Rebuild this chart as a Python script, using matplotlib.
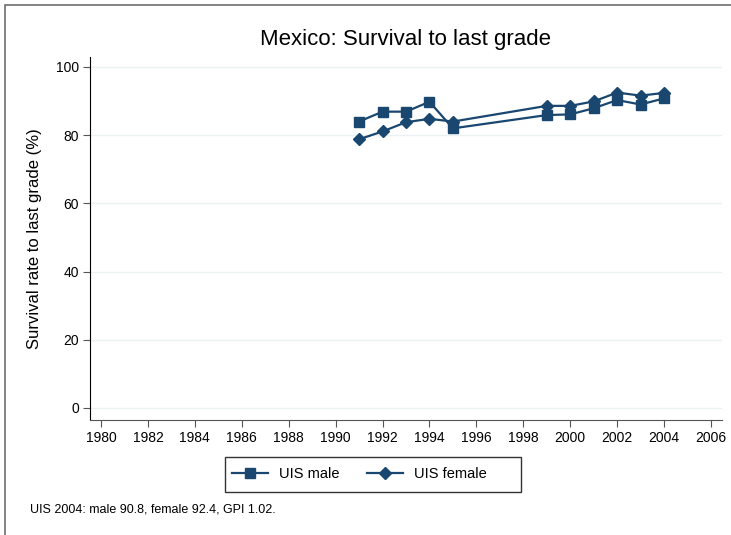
"""
Mexico: survival to last grade, UIS male vs female
"""

import matplotlib.pyplot as plt
from matplotlib.patches import Rectangle

plt.rcParams['font.family'] = ['Liberation Sans', 'DejaVu Sans']

# Data
years = [1991, 1992, 1993, 1994, 1995, 1999, 2000, 2001, 2002, 2003, 2004]
male = [84.0, 86.9, 86.9, 89.8, 82.0, 85.9, 86.1, 87.9, 90.3, 89.0, 90.8]
female = [78.8, 81.1, 83.8, 84.8, 84.0, 88.6, 88.6, 89.9, 92.5, 91.6, 92.4]
xticks = list(range(1980, 2007, 2))
yticks = [0, 20, 40, 60, 80, 100]

navy = '#1a476f'
W, H = 731, 535

fig = plt.figure(figsize=(W / 100, H / 100), dpi=100)
# outer frame (right and bottom edges fall outside the picture)
fig.patches.append(Rectangle((5 / W, -0.5), 2.0, 1.5 - 5 / H,
                             transform=fig.transFigure, fill=False,
                             edgecolor='#6e6e6e', linewidth=1.2))

ax = fig.add_axes([90 / W, 1 - 420 / H, 632 / W, 363 / H])
ax.plot(years, male, '-s', color=navy, markersize=6.5, linewidth=1.6,
        label='UIS male')
ax.plot(years, female, '-D', color=navy, markersize=6.5, linewidth=1.6,
        label='UIS female')

ax.set_xlim(1979.53, 2006.47)
ax.set_ylim(-3.52, 102.93)
ax.set_xticks(xticks)
ax.set_yticks(yticks)
ax.tick_params(labelsize=10, length=5, color='#555555', pad=3)
for y in yticks:
    ax.axhline(y, color='#eaf2f3', linewidth=1, zorder=0)

ax.spines['top'].set_visible(False)
ax.spines['right'].set_visible(False)
ax.spines['left'].set_color('black')
ax.spines['bottom'].set_color('#555555')

ax.set_ylabel('Survival rate to last grade (%)', fontsize=12, labelpad=10)
fig.text(0.555, 1 - 40 / H, 'Mexico: Survival to last grade',
         ha='center', va='center', fontsize=16)

# legend box drawn separately, entries placed inside it
fig.patches.append(Rectangle((225 / W, 1 - 492 / H), 296 / W, 35 / H,
                             transform=fig.transFigure, fill=False,
                             edgecolor='#333333', linewidth=1.0))
ax.legend(loc='center left', bbox_to_anchor=(232 / W, 1 - 474.5 / H),
          bbox_transform=fig.transFigure, ncol=2, fontsize=10.5,
          frameon=False, handlelength=2.47, handletextpad=0.75,
          columnspacing=1.9, borderpad=0, borderaxespad=0)

fig.text(30 / W, 1 - 510 / H, 'UIS 2004: male 90.8, female 92.4, GPI 1.02.',
         ha='left', va='center', fontsize=9)

plt.savefig('out.png', dpi=100)
plt.close()
